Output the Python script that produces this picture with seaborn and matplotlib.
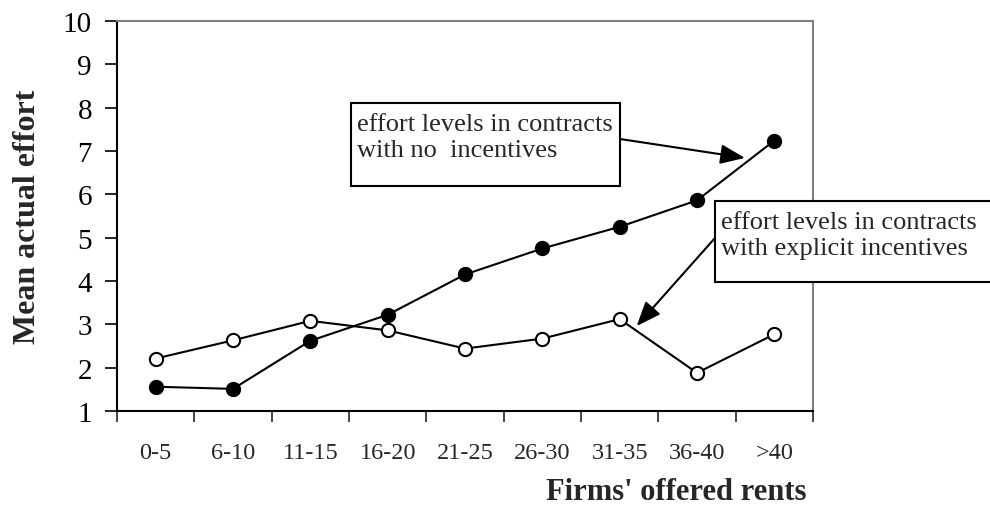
import numpy as np
import pandas as pd
import matplotlib.pyplot as plt
from matplotlib.patches import Rectangle
import seaborn as sns

# -----------------------------
# DATA
# -----------------------------

rent_bins = ["0-5", "6-10", "11-15", "16-20", "21-25", "26-30", "31-35", "36-40", ">40"]
effort_no_incentives = [1.56, 1.51, 2.62, 3.22, 4.15, 4.75, 5.25, 5.86, 7.24]
effort_explicit = [2.21, 2.63, 3.08, 2.86, 2.44, 2.67, 3.12, 1.88, 2.77]
y_ticks = list(range(1, 11))

df = pd.DataFrame({
    "rent": rent_bins * 2,
    "effort": effort_no_incentives + effort_explicit,
    "contract": ["none"] * len(rent_bins) + ["explicit"] * len(rent_bins),
})

# -----------------------------
# STYLE
# -----------------------------

sns.set_style("ticks")
plt.rcParams["font.family"] = ["Liberation Serif", "DejaVu Serif"]

W, H = 990, 510
fig = plt.figure(figsize=(W / 100, H / 100), dpi=100)
ax = fig.add_axes([0.1182, 0.1922, 0.703, 0.7647])

# -----------------------------
# LINES
# -----------------------------

for name, face in [("none", "black"), ("explicit", "white")]:
    sns.pointplot(
        data=df[df["contract"] == name],
        x="rent", y="effort", order=rent_bins,
        color="black", markers="o", linestyles="-",
        errorbar=None, ax=ax,
    )
    line = ax.lines[-1]
    line.set_markerfacecolor(face)
    line.set_markeredgecolor("black")
    line.set_markersize(9.5)
    line.set_markeredgewidth(1.5)
    line.set_linewidth(1.5)

# -----------------------------
# AXES
# -----------------------------

ax.set_ylim(1, 10)
ax.set_xlim(-0.5, len(rent_bins) - 0.5)
ax.set_yticks(y_ticks)
ax.set_xticks(np.arange(-0.5, len(rent_bins)), minor=True)

ax.tick_params(axis="y", length=9, width=1.2, pad=9, labelsize=21, colors="black")
ax.tick_params(axis="x", which="major", length=0, pad=22, labelsize=17.5)
ax.tick_params(axis="x", which="minor", length=8, width=1.2, direction="out")

for side in ["left", "bottom"]:
    ax.spines[side].set_color("black")
    ax.spines[side].set_linewidth(1.5)
for side in ["top", "right"]:
    ax.spines[side].set_color("#808080")
    ax.spines[side].set_linewidth(1.5)

ax.set_ylabel("Mean actual effort", fontsize=23, fontweight="bold")
ax.yaxis.set_label_coords(-0.108, 0.5)
ax.set_xlabel("Firms' offered rents", fontsize=22, fontweight="bold")
ax.xaxis.set_label_coords(0.803, -0.17)

# -----------------------------
# ANNOTATIONS (boxes in figure pixels, top-left origin)
# -----------------------------

def fx(px):
    return px / W

def fy(py):
    return 1 - py / H

notes = [
    ("effort levels in contracts\nwith no  incentives", (351, 104, 620, 187), (620, 140), (7.62, 6.84)),
    ("effort levels in contracts\nwith explicit incentives", (715, 202, 1000, 283), (715, 239), (6.22, 2.96)),
]

for text, (x0, y0, x1, y1), start, tip in notes:
    fig.patches.append(Rectangle((fx(x0), fy(y1)), fx(x1) - fx(x0), fy(y0) - fy(y1),
                                 transform=fig.transFigure, fc="white", ec="black",
                                 lw=1.5, zorder=4))
    fig.text(fx(x0 + 6), fy(y0 + 10), text, ha="left", va="top", fontsize=19,
             linespacing=1.25, zorder=5)
    ax.annotate("", xy=tip, xytext=(fx(start[0]), fy(start[1])),
                textcoords="figure fraction", annotation_clip=False,
                arrowprops=dict(arrowstyle="-|>,head_length=1.0,head_width=0.4",
                                mutation_scale=15, color="black", lw=1.5,
                                shrinkA=0, shrinkB=0))

fig.savefig("out.png", dpi=100)
